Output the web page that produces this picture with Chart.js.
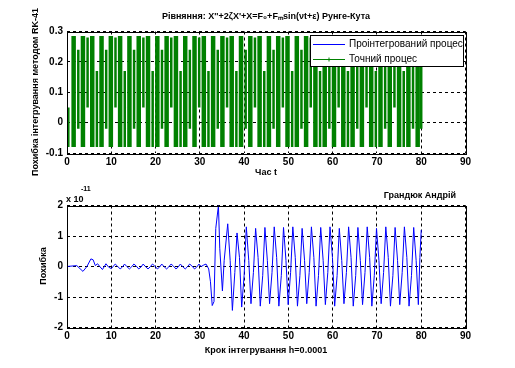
<!DOCTYPE html>
<html>
<head>
<meta charset="utf-8">
<script src="https://cdn.jsdelivr.net/npm/chart.js@4.4.0/dist/chart.umd.min.js"></script>
<style>
  html, body { margin: 0; padding: 0; background: #fff; }
  #wrap { position: relative; width: 515px; height: 368px; }
  #topChart { position: absolute; left: 0; top: 0; }
  #botChart { position: absolute; left: 0; top: 180px; }
</style>
</head>
<body>
<div id="wrap">
  <canvas id="topChart" width="515" height="180"></canvas>
  <canvas id="botChart" width="515" height="188"></canvas>
</div>
<script>
// tick labels
var xTicks = [0, 10, 20, 30, 40, 50, 60, 70, 80, 90];
var topYTicks = [-0.1, 0, 0.1, 0.2, 0.3];
var botYTicks = [-2, -1, 0, 1, 2];

// top plot: the exact process, read as vertical swings (time, low, high)
// full swings
var mainX = [1.5, 3.6, 5.7, 7.8, 9.9, 12.0, 14.1, 16.2, 18.3, 20.4, 22.5, 24.6, 26.7, 28.8, 30.9, 33.0, 35.1,
  37.2, 39.3, 41.4, 43.5, 45.6, 47.7, 49.8, 51.9, 54.0, 56.1, 58.2, 60.3, 62.4, 64.5, 66.6, 68.7, 70.8,
  72.9, 75.0, 77.1, 79.2];
var mainLo = [-0.08, -0.08, -0.08, -0.08, -0.08, -0.08, -0.08, -0.08, -0.08, -0.08, -0.08, -0.08, -0.08,
  -0.08, -0.08, -0.08, -0.08, -0.08, -0.08, -0.08, -0.08, -0.08, -0.08, -0.08, -0.08, -0.08, -0.08,
  -0.08, -0.08, -0.08, -0.08, -0.08, -0.08, -0.08, -0.08, -0.08, -0.08, -0.08];
var mainHi = [0.285, 0.285, 0.285, 0.285, 0.285, 0.285, 0.285, 0.285, 0.285, 0.285, 0.285, 0.285, 0.285,
  0.285, 0.285, 0.285, 0.285, 0.285, 0.285, 0.285, 0.285, 0.285, 0.285, 0.285, 0.285, 0.285, 0.285,
  0.285, 0.285, 0.285, 0.285, 0.285, 0.285, 0.285, 0.285, 0.285, 0.285, 0.285];
// partial swings in between
var midX = [0.3, 2.55, 4.65, 6.75, 8.85, 10.95, 13.05, 15.15, 17.25, 19.35, 21.45, 23.55, 25.65, 27.75,
  29.85, 31.95, 34.05, 36.15, 38.25, 40.35, 42.45, 44.55, 46.65, 48.75, 50.85, 52.95, 55.05, 57.15,
  59.25, 61.35, 63.45, 65.55, 67.65, 69.75, 71.85, 73.95, 76.05, 78.15, 80.0];
var midLo = [-0.08, -0.02, 0.05, -0.08, -0.02, 0.05, -0.08, -0.02, 0.05, -0.08, -0.02, 0.05, -0.08, -0.02,
  0.05, -0.08, -0.02, 0.05, -0.08, -0.02, 0.05, -0.08, -0.02, 0.05, -0.08, -0.02, 0.05, -0.08,
  -0.02, 0.05, -0.08, -0.02, 0.05, -0.08, -0.02, 0.05, -0.08, -0.02, -0.02];
var midHi = [0.05, 0.24, 0.28, 0.17, 0.24, 0.28, 0.17, 0.24, 0.28, 0.17, 0.24, 0.28, 0.17, 0.24,
  0.28, 0.17, 0.24, 0.28, 0.17, 0.24, 0.28, 0.17, 0.24, 0.28, 0.17, 0.24, 0.28, 0.17,
  0.24, 0.28, 0.17, 0.24, 0.28, 0.17, 0.24, 0.28, 0.17, 0.24, 0.2];

// bottom plot: integration error, in units of 1e-11
var errT = [0, 2.2, 3.6, 4.5, 5.4, 5.9, 6.4, 6.9, 7.4, 8.0, 8.8, 9.4, 10.0,
  10.9, 11.4, 12.0, 12.5, 13.0, 13.5, 14.1, 14.6, 15.1, 15.6, 16.2, 16.7,
  17.2, 17.7, 18.3, 18.8, 19.3, 19.8, 20.4, 20.9, 21.4, 21.9, 22.5, 23.0,
  23.5, 24.0, 24.6, 25.1, 25.6, 26.1, 26.7, 27.2, 27.7, 28.2, 28.8, 29.3,
  29.8, 30.3, 30.9, 31.4, 32.0, 32.4, 32.8, 33.2, 33.6, 34.2, 34.5, 35.1, 35.5,
  36.3, 36.85, 37.35, 37.9, 38.4, 38.95, 39.45, 40.0, 40.5, 41.05, 41.55, 42.1,
  42.6, 43.15, 43.65, 44.2, 44.7, 45.25, 45.75, 46.3, 46.8, 47.35, 47.85, 48.4,
  48.9, 49.45, 49.95, 50.5, 51.0, 51.55, 52.05, 52.6, 53.1, 53.65, 54.15, 54.7,
  55.2, 55.75, 56.25, 56.8, 57.3, 57.85, 58.35, 58.9, 59.4, 59.95, 60.45, 61.0,
  61.5, 62.05, 62.55, 63.1, 63.6, 64.15, 64.65, 65.2, 65.7, 66.25, 66.75, 67.3,
  67.8, 68.35, 68.85, 69.4, 69.9, 70.45, 70.95, 71.5, 72.0, 72.55, 73.05, 73.6,
  74.1, 74.65, 75.15, 75.7, 76.2, 76.75, 77.25, 77.8, 78.3, 78.85, 79.35, 79.7, 80.0];
var errY = [0, 0.03, -0.16, 0, 0.25, 0.22, 0.03, 0.09, 0, -0.1, 0.09, -0.02, -0.07,
  0.08, 0.01, -0.08, -0.02, 0.08, 0.0, -0.08, -0.01, 0.08, 0.02, -0.08, -0.02,
  0.08, 0.0, -0.08, -0.01, 0.08, 0.02, -0.08, -0.02, 0.08, 0.0, -0.08, -0.01,
  0.08, 0.02, -0.08, -0.02, 0.08, 0.0, -0.08, -0.01, 0.08, 0.02, -0.08, -0.02,
  0.08, 0.0, 0.05, 0.08, -0.08, -0.5, -1.28, -1.15, 1.25, 2.0, 0.6, -0.8, 0.2,
  1.4, 0.2, -1.44, -0.2, 1.1, 0.3, -1.33, -0.3, 1.3, 0.2, -1.22, -0.2,
  1.25, 0.3, -1.3, -0.3, 1.28, 0.2, -1.22, -0.2, 1.3, 0.3, -1.3, -0.3,
  1.28, 0.2, -1.25, -0.2, 1.3, 0.3, -1.3, -0.3, 1.25, 0.2, -1.22, -0.2,
  1.3, 0.3, -1.3, -0.3, 1.28, 0.2, -1.25, -0.2, 1.3, 0.3, -1.3, -0.3,
  1.25, 0.2, -1.22, -0.2, 1.3, 0.3, -1.3, -0.3, 1.28, 0.2, -1.25, -0.2,
  1.3, 0.3, -1.3, -0.3, 1.25, 0.2, -1.22, -0.2, 1.3, 0.3, -1.3, -0.3,
  1.28, 0.2, -1.25, -0.2, 1.3, 0.3, -1.3, -0.3, 1.28, 0.2, -1.25, 0.3, 1.2];

var FONT = "'Liberation Sans', Arial, sans-serif";

// each swing becomes a short vertical stroke, separated by gaps
function swingPoints(xs, lo, hi) {
  var pts = [];
  for (var i = 0; i < xs.length; i++) {
    pts.push({ x: xs[i], y: lo[i] });
    pts.push({ x: xs[i], y: hi[i] });
    pts.push({ x: xs[i], y: null });
  }
  return pts;
}

var errPoints = errT.map(function (t, i) { return { x: t, y: errY[i] }; });

// frame, texts and the boxed legend (matlab style)
var decor = {
  id: 'decor',
  afterDraw: function (chart, args, opts) {
    var ctx = chart.ctx, a = chart.chartArea;
    ctx.save();
    ctx.strokeStyle = '#000';
    ctx.lineWidth = 1;
    ctx.setLineDash([]);
    ctx.strokeRect(Math.round(a.left) + 0.5, Math.round(a.top) + 0.5,
      Math.round(a.right - a.left), Math.round(a.bottom - a.top));

    (opts.texts || []).forEach(function (t) {
      ctx.save();
      ctx.fillStyle = '#000';
      ctx.font = t.font;
      ctx.textAlign = t.align || 'center';
      ctx.textBaseline = 'middle';
      ctx.translate(t.x, t.y);
      if (t.rotate) ctx.rotate(t.rotate);
      ctx.fillText(t.text, 0, 0);
      ctx.restore();
    });

    var lg = opts.legend;
    if (lg) {
      ctx.fillStyle = '#fff';
      ctx.fillRect(lg.x, lg.y, lg.w, lg.h);
      ctx.strokeRect(lg.x + 0.5, lg.y + 0.5, lg.w, lg.h);
      ctx.font = lg.font;
      ctx.textAlign = 'left';
      ctx.textBaseline = 'middle';
      lg.items.forEach(function (it, i) {
        var y = lg.y + lg.first + i * lg.step + 0.5;
        ctx.strokeStyle = it.color;
        ctx.lineWidth = 1;
        ctx.beginPath();
        ctx.moveTo(lg.x + 3, y);
        ctx.lineTo(lg.x + 35, y);
        ctx.stroke();
        if (it.marker) {
          ctx.beginPath();
          ctx.moveTo(lg.x + 19, y - 2);
          ctx.lineTo(lg.x + 19, y + 2);
          ctx.stroke();
        }
        ctx.fillStyle = '#000';
        ctx.fillText(it.label, lg.x + 39, y);
      });
    }
    ctx.restore();
  }
};

function axisX(h) {
  return {
    type: 'linear', min: 0, max: 90,
    afterFit: function (s) { s.height = h; },
    afterBuildTicks: function (s) { s.ticks = xTicks.map(function (v) { return { value: v }; }); },
    ticks: { autoSkip: false, maxRotation: 0, padding: 3, color: '#000', font: { family: FONT, size: 10, weight: 'bold' } },
    grid: { color: '#000', lineWidth: 1, drawTicks: false },
    border: { display: false, dash: [3, 3] }
  };
}

function axisY(min, max, ticks) {
  return {
    type: 'linear', min: min, max: max,
    afterFit: function (s) { s.width = 67; },
    afterBuildTicks: function (s) { s.ticks = ticks.map(function (v) { return { value: v }; }); },
    ticks: {
      autoSkip: false, padding: 4, color: '#000', font: { family: FONT, size: 10, weight: 'bold' },
      callback: function (v) { return String(Math.round(v * 10) / 10); }
    },
    grid: { color: '#000', lineWidth: 1, drawTicks: false },
    border: { display: false, dash: [3, 3] }
  };
}

var bold9 = 'bold 9px ' + FONT;

new Chart(document.getElementById('topChart'), {
  type: 'line',
  data: {
    datasets: [{
      label: 'Точний процес',
      data: swingPoints(mainX, mainLo, mainHi),
      borderColor: '#008000',
      borderWidth: 4.5,
      pointRadius: 0,
      spanGaps: false
    }, {
      label: 'Точний процес',
      data: swingPoints(midX, midLo, midHi),
      borderColor: '#008000',
      borderWidth: 2.5,
      pointRadius: 0,
      spanGaps: false
    }, {
      label: 'Проінтегрований процес',
      data: swingPoints(mainX, mainLo, mainHi),
      borderColor: '#0000ff',
      borderWidth: 1,
      pointRadius: 0,
      spanGaps: false
    }]
  },
  options: {
    responsive: false,
    animation: false,
    layout: { padding: { left: 0, right: 49.5, top: 31.5, bottom: 0 } },
    scales: { x: axisX(27), y: axisY(-0.1, 0.3, topYTicks) },
    plugins: {
      legend: { display: false },
      tooltip: { enabled: false },
      decor: {
        texts: [
          { text: "Рівняння: X''+2ζX'+X=F₀+Fₘsin(νt+ε) Рунге-Кута", x: 266, y: 17, font: bold9 },
          { text: 'Час t', x: 266, y: 173, font: bold9 },
          { text: 'Похибка інтегрування методом RK-41', x: 36, y: 92, rotate: -Math.PI / 2, font: bold9 }
        ],
        legend: {
          x: 310, y: 35, w: 153, h: 31, first: 9, step: 15, font: '10px ' + FONT,
          items: [
            { label: 'Проінтегрований процес', color: '#0000ff' },
            { label: 'Точний процес', color: '#008000', marker: true }
          ]
        }
      }
    }
  },
  plugins: [decor]
});

new Chart(document.getElementById('botChart'), {
  type: 'line',
  data: {
    datasets: [{
      label: 'Похибка',
      data: errPoints,
      borderColor: '#0000ff',
      borderWidth: 1,
      pointRadius: 0,
      tension: 0
    }]
  },
  options: {
    responsive: false,
    animation: false,
    layout: { padding: { left: 0, right: 49.5, top: 25.5, bottom: 0 } },
    scales: { x: axisX(40.5), y: axisY(-2, 2, botYTicks) },
    plugins: {
      legend: { display: false },
      tooltip: { enabled: false },
      decor: {
        texts: [
          { text: 'Грандюк Андрій', x: 456, y: 16, align: 'right', font: bold9 },
          { text: 'x 10', x: 66, y: 20, align: 'left', font: bold9 },
          { text: '-11', x: 81, y: 9, align: 'left', font: 'bold 7px ' + FONT },
          { text: 'Крок інтегрування h=0.0001', x: 266, y: 171, font: bold9 },
          { text: 'Похибка', x: 44, y: 86, rotate: -Math.PI / 2, font: bold9 }
        ]
      }
    }
  },
  plugins: [decor]
});
</script>
</body>
</html>
